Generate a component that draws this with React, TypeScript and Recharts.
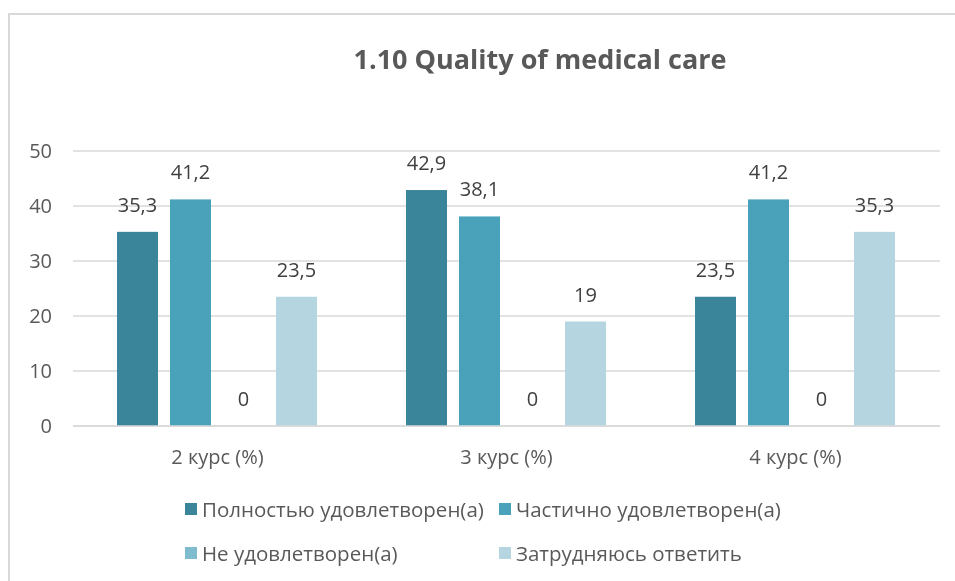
import React from 'react';
import { BarChart, Bar, XAxis, YAxis, CartesianGrid, LabelList } from 'recharts';

const categories = ['2 курс (%)', '3 курс (%)', '4 курс (%)'];
const fullySatisfied = [35.3, 42.9, 23.5];
const partlySatisfied = [41.2, 38.1, 41.2];
const notSatisfied = [0, 0, 0];
const hardToSay = [23.5, 19, 35.3];
const seriesNames = ['Полностью удовлетворен(а)', 'Частично удовлетворен(а)', 'Не удовлетворен(а)', 'Затрудняюсь ответить'];
const seriesColors = ['#3A8599', '#49A2BA', '#7FBCD0', '#B5D5E0'];
const yTicks = [0, 10, 20, 30, 40, 50];
const title = '1.10 Quality of medical care';

const data = categories.map((c, i) => ({
  name: c,
  s0: fullySatisfied[i],
  s1: partlySatisfied[i],
  s2: notSatisfied[i],
  s3: hardToSay[i],
}));

const FONT = '"Open Sans", "Noto Sans", sans-serif';
const fmt = (v: any) => String(v).replace('.', ',');

const renderValue = (props: any) => {
  const { x, y, width, value } = props;
  if (value === undefined || value === null) return null;
  return (
    <text x={Number(x) + Number(width) / 2} y={Number(y) - 20} textAnchor="middle" fill="#404040" fontSize={20} fontFamily={FONT}>
      {fmt(value)}
    </text>
  );
};

const BarShape = (props: any) => {
  const { x, y, width, height, fill, value } = props;
  const v = Array.isArray(value) ? value[1] - value[0] : value;
  if (!v) return <g />;
  return <rect x={x} y={y} width={width} height={height} fill={fill} />;
};

export default function App() {
  return (
    <div style={{ position: 'fixed', left: 8, top: 8, width: 947, height: 573, overflow: 'hidden', fontFamily: FONT }}>
      <div style={{ position: 'absolute', left: 0, top: 5, width: 970, height: 620, border: '2px solid #d9d9d9', boxSizing: 'border-box' }} />
      <div style={{ position: 'absolute', left: 0, width: 1064, top: 32, textAlign: 'center', fontSize: 27, fontWeight: 700, color: '#595959' }}>{title}</div>
      <BarChart
        width={947}
        height={573}
        data={data}
        margin={{ top: 143, right: 15, bottom: 125, left: 0 }}
        barCategoryGap={44}
        barGap={12}
      >
        <CartesianGrid vertical={false} stroke="#d9d9d9" strokeWidth={1.5} />
        <XAxis dataKey="name" axisLine={{ stroke: '#d9d9d9', strokeWidth: 1.5 }} tickLine={false} tickMargin={18} height={30}
          tick={{ fill: '#595959', fontSize: 20, fontFamily: FONT }} />
        <YAxis domain={[0, 50]} ticks={yTicks} axisLine={false} tickLine={false} width={65} tickMargin={15}
          tick={{ fill: '#595959', fontSize: 20, fontFamily: FONT }} />
        {['s0', 's1', 's2', 's3'].map((k, i) => (
          <Bar key={k} dataKey={k} fill={seriesColors[i]} isAnimationActive={false} minPointSize={0.01} shape={BarShape}>
            <LabelList dataKey={k} content={renderValue} />
          </Bar>
        ))}
      </BarChart>
      <div style={{ position: 'absolute', left: 177, top: 488, width: 640, display: 'grid', gridTemplateColumns: '314px 314px', rowGap: 18, fontSize: 20.5, color: '#595959' }}>
        {seriesNames.map((n, i) => (
          <div key={n} style={{ display: 'flex', alignItems: 'center', height: 26, whiteSpace: 'nowrap' }}>
            <span style={{ display: 'inline-block', width: 12, height: 12, background: seriesColors[i], marginRight: 5 }} />
            {n}
          </div>
        ))}
      </div>
    </div>
  );
}
